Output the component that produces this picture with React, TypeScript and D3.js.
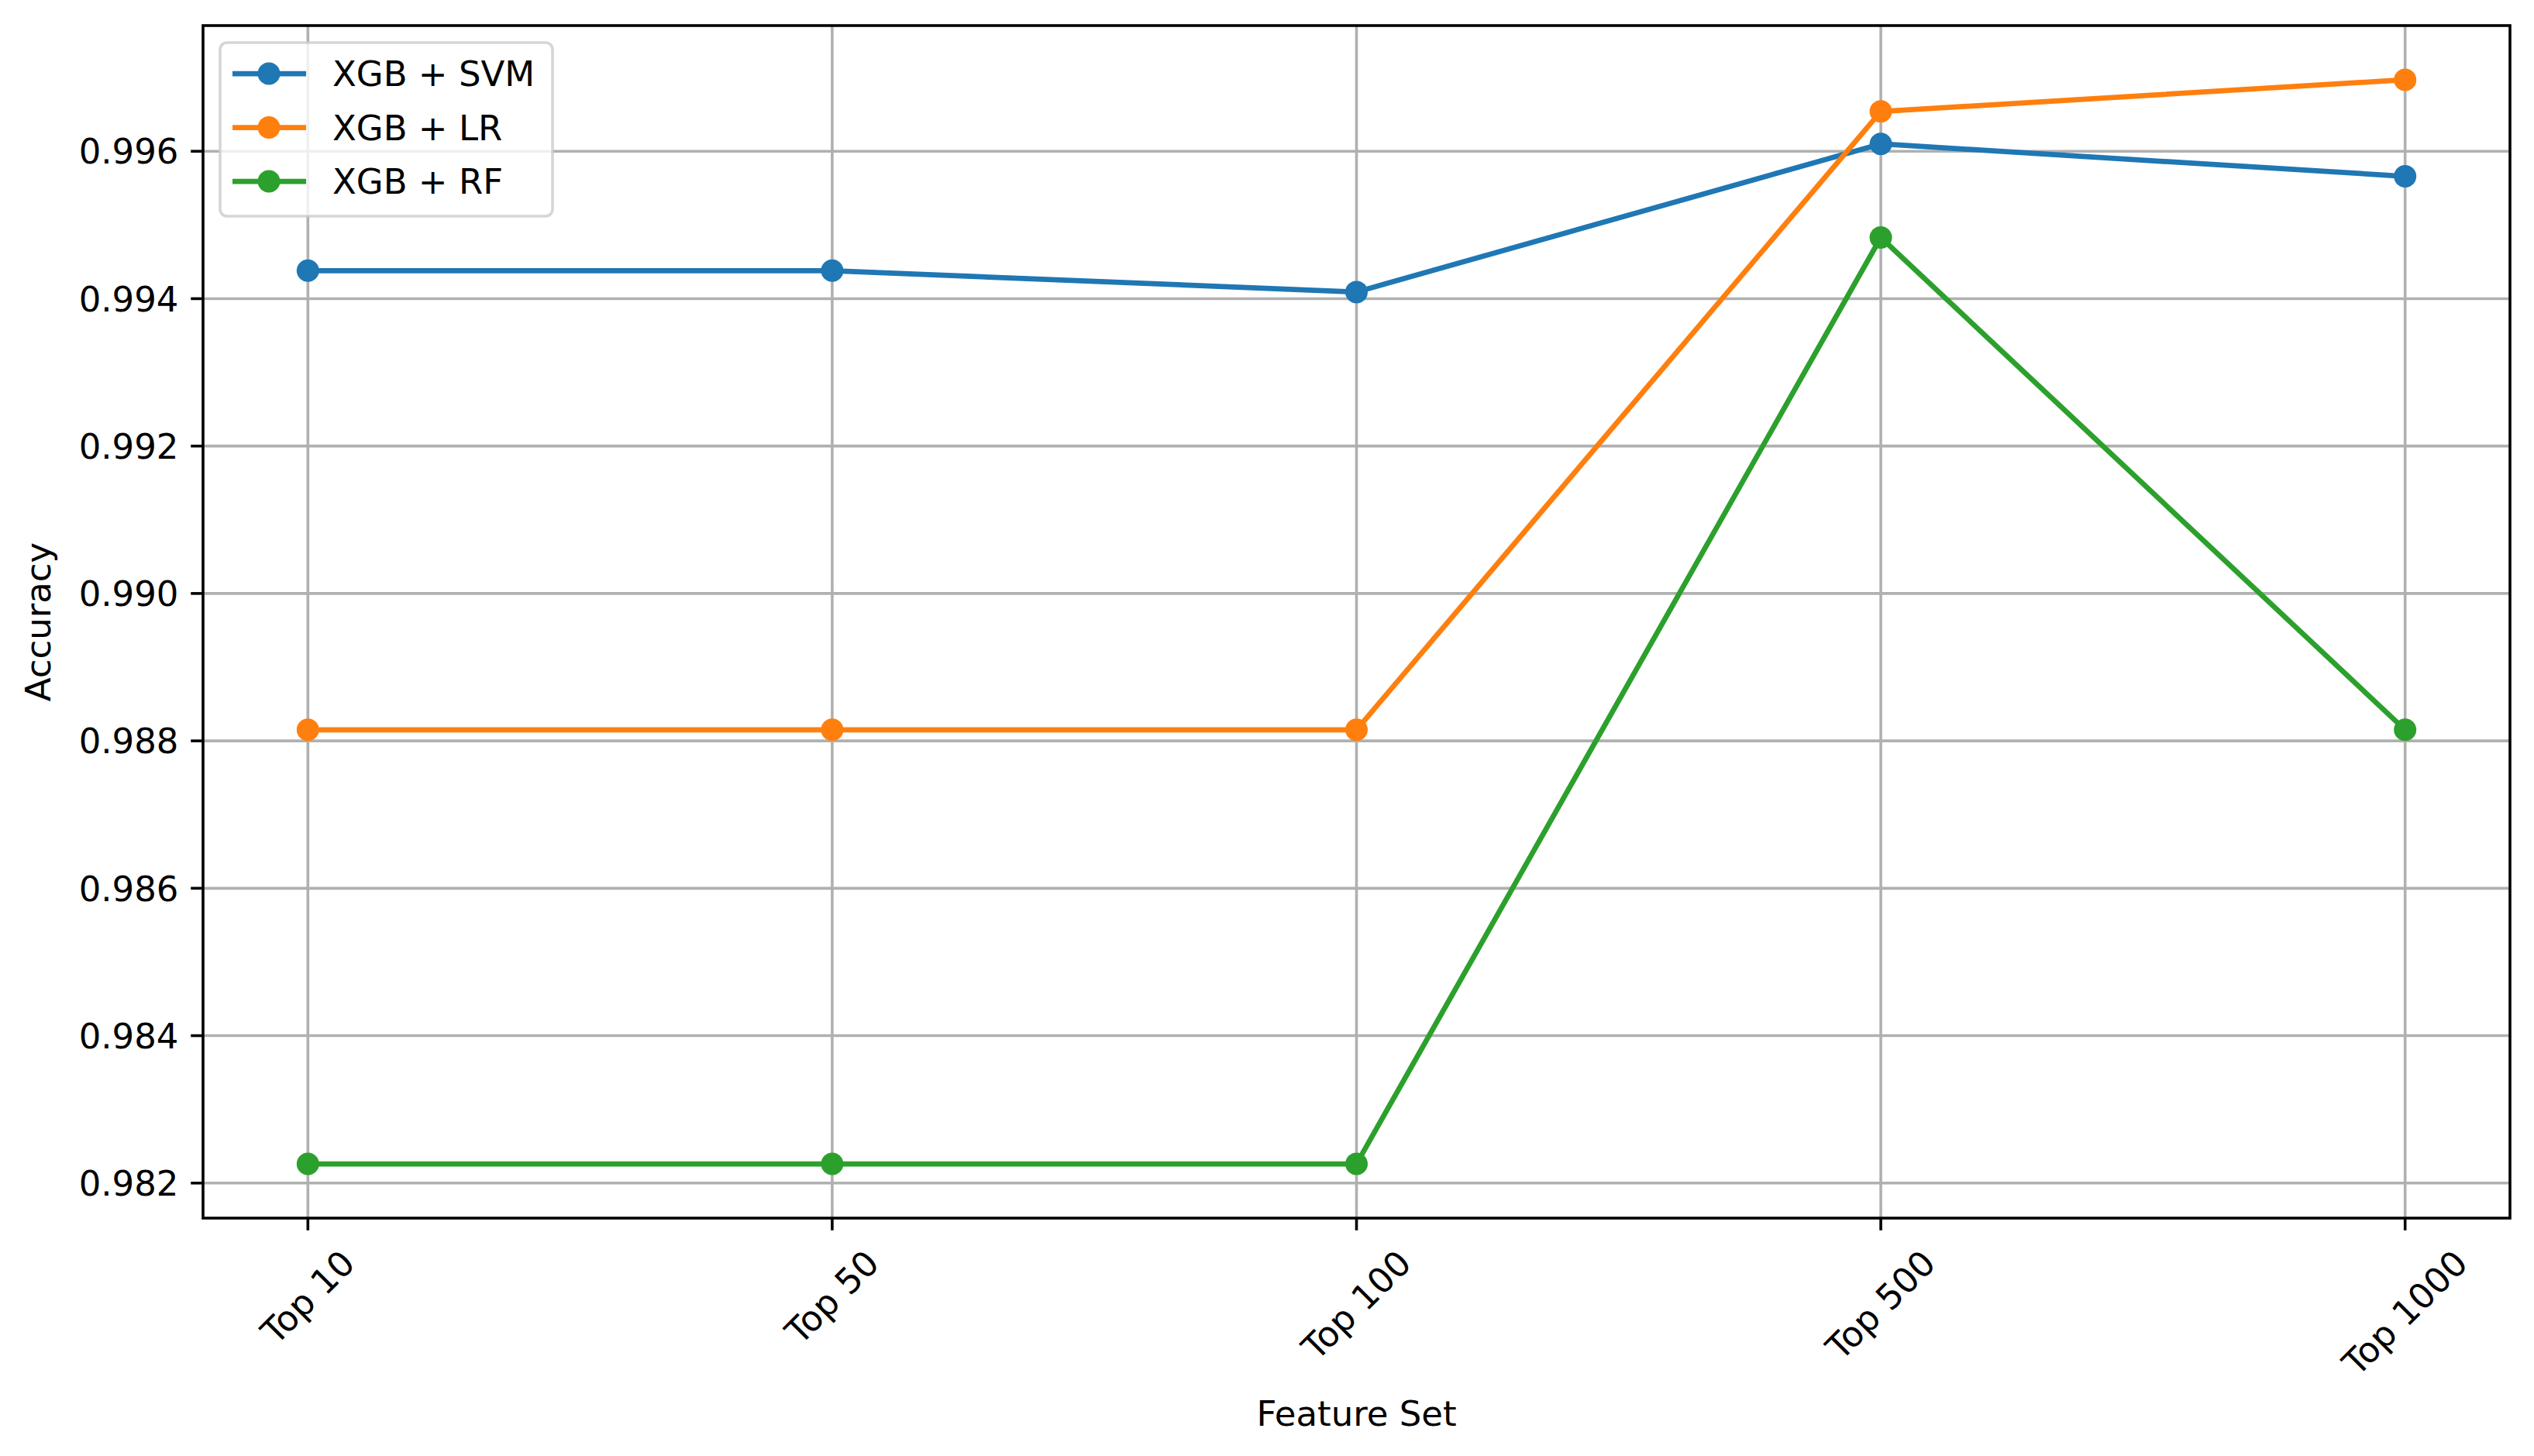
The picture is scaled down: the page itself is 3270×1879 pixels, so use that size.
import React from "react";
import * as d3 from "d3";

const categories = ["Top 10", "Top 50", "Top 100", "Top 500", "Top 1000"];
const svmValues = [0.99438, 0.99438, 0.99409, 0.9961, 0.99566];
const lrValues = [0.98815, 0.98815, 0.98815, 0.99654, 0.99697];
const rfValues = [0.98226, 0.98226, 0.98226, 0.99483, 0.98815];
const yTicks = [0.982, 0.984, 0.986, 0.988, 0.99, 0.992, 0.994, 0.996];
const seriesNames = ["XGB + SVM", "XGB + LR", "XGB + RF"];
const seriesColors = ["#1f77b4", "#ff7f0e", "#2ca02c"];

const W = 3270;
const H = 1879;
const FS = 45;
const FONT = "'DejaVu Sans', sans-serif";
const left = 262, right = 3239, top = 33, bottom = 1572;
const PT = 4.5; // px per point

let ctx: CanvasRenderingContext2D | null = null;
function textWidth(s: string) {
  if (!ctx) {
    const c = document.createElement("canvas");
    ctx = c.getContext("2d");
  }
  if (!ctx) return s.length * FS * 0.6;
  ctx.font = `${FS}px 'DejaVu Sans'`;
  return ctx.measureText(s).width;
}

export default function App() {
  const series = [svmValues, lrValues, rfValues];
  const all = series.flat();
  const mn = d3.min(all)!, mx = d3.max(all)!;
  const pad = (mx - mn) * 0.05;
  const x = d3.scaleLinear().domain([-0.2, categories.length - 1 + 0.2]).range([left, right]);
  const y = d3.scaleLinear().domain([mn - pad, mx + pad]).range([bottom, top]);
  const line = d3.line<number>().x((_, i) => x(i)).y((d) => y(d));

  const tickLen = 3.5 * PT;
  const lblH = 1.164 * FS;
  const thin = 0.8 * PT;
  const lw = 1.5 * PT;
  const mr = 14.5;

  return (
    <svg width={W} height={H} style={{ position: "absolute", left: 0, top: 0, background: "#fff" }} fontFamily={FONT}>
      <rect x={0} y={0} width={W} height={H} fill="#fff" />
      {categories.map((c, i) => (
        <line key={"gx" + c} x1={x(i)} x2={x(i)} y1={top} y2={bottom} stroke="#b0b0b0" strokeWidth={thin} />
      ))}
      {yTicks.map((t) => (
        <line key={"gy" + t} x1={left} x2={right} y1={y(t)} y2={y(t)} stroke="#b0b0b0" strokeWidth={thin} />
      ))}
      {series.map((s, k) => (
        <g key={"s" + k}>
          <path d={line(s) || ""} fill="none" stroke={seriesColors[k]} strokeWidth={lw} strokeLinejoin="round" />
          {s.map((v, i) => (
            <circle key={i} cx={x(i)} cy={y(v)} r={mr} fill={seriesColors[k]} />
          ))}
        </g>
      ))}
      <rect x={left} y={top} width={right - left} height={bottom - top} fill="none" stroke="#000" strokeWidth={thin} />
      {yTicks.map((t) => (
        <g key={"yt" + t}>
          <line x1={left - tickLen} x2={left} y1={y(t)} y2={y(t)} stroke="#000" strokeWidth={thin} />
          <text x={left - tickLen - 3.5 * PT} y={y(t)} dy="0.36em" textAnchor="end" fontSize={FS} fill="#000">
            {d3.format(".3f")(t)}
          </text>
        </g>
      ))}
      {categories.map((c, i) => {
        const w = textWidth(c);
        const half = (w + lblH) / (2 * Math.SQRT2);
        const cx = x(i);
        const cy = bottom + tickLen + 3.5 * PT + half;
        return (
          <g key={"xt" + c}>
            <line x1={cx} x2={cx} y1={bottom} y2={bottom + tickLen} stroke="#000" strokeWidth={thin} />
            <text
              x={cx}
              y={cy}
              dy="0.346em"
              textAnchor="middle"
              fontSize={FS}
              fill="#000"
              transform={`rotate(-45, ${cx}, ${cy})`}
            >
              {c}
            </text>
          </g>
        );
      })}
      <text x={(left + right) / 2} y={1840} textAnchor="middle" fontSize={FS} fill="#000">
        Feature Set
      </text>
      <text
        x={65}
        y={(top + bottom) / 2}
        textAnchor="middle"
        fontSize={FS}
        fill="#000"
        transform={`rotate(-90, 65, ${(top + bottom) / 2})`}
      >
        Accuracy
      </text>
      <g>
        <rect x={284} y={55} width={429} height={224} rx={9} ry={9} fill="#fff" fillOpacity={0.8} stroke="#cccccc" strokeOpacity={0.8} strokeWidth={thin} />
        {seriesNames.map((n, k) => {
          const cy = 95 + k * 69.5;
          return (
            <g key={"lg" + n}>
              <line x1={300} x2={395} y1={cy} y2={cy} stroke={seriesColors[k]} strokeWidth={lw} />
              <circle cx={347} cy={cy} r={mr} fill={seriesColors[k]} />
              <text x={429} y={cy} dy="0.36em" fontSize={FS} fill="#000">
                {n}
              </text>
            </g>
          );
        })}
      </g>
    </svg>
  );
}
